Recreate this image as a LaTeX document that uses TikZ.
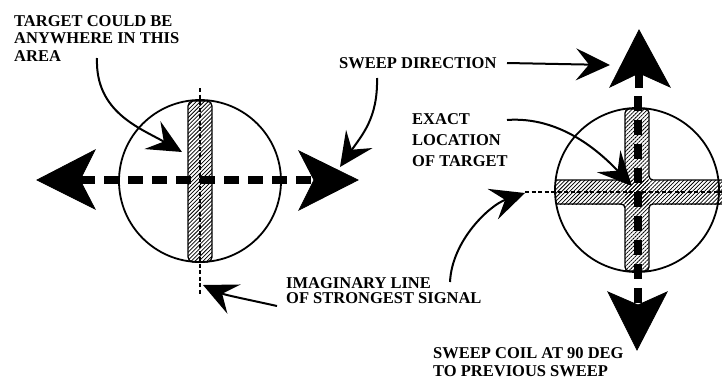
\documentclass[tikz,border=0pt]{standalone}
\usepackage{fontspec}
\setmainfont{Liberation Serif}
\usetikzlibrary{arrows.meta,patterns.meta}
\tikzset{
  lbl/.style={anchor=north west, inner sep=0pt, align=left, font=\bfseries\fontsize{16.5}{#1}\selectfont},
  lbl/.default=17.5,
  ring/.style={line width=1.8pt},
  hatch/.style={pattern={Lines[angle=45,distance=2.8pt,line width=0.75pt]}},
  baroutline/.style={line width=1.3pt, rounded corners=5pt},
  thindash/.style={line width=1.3pt, dash pattern=on 4pt off 2.5pt},
  thickdash/.style={line width=8pt, dash pattern=on 15pt off 9pt},
  pointer/.style={line width=2pt, -{Stealth[length=34pt,width=32pt,inset=13pt]}},
  bighead/.style={fill=black, draw=black, line width=0.8pt, line join=miter},
}
\begin{document}
\begin{tikzpicture}[x=1pt,y=-1pt]
\useasboundingbox (0,0) rectangle (722,381);
% ---------- left figure ----------
\coordinate (Lc) at (200,181);
\draw[ring] (Lc) circle[radius=81];
\fill[hatch] [rounded corners=5pt] (188,101) rectangle (212,262);
\draw[baroutline] (188,101) rectangle (212,262);
\coordinate (Ltop) at (200,88);
\coordinate (Lbot) at (200,294);
\draw[thindash] (Ltop) -- (Lbot);
% sweep heads
\coordinate (LLn) at (80,180);
\coordinate (LRn) at (314,180);
\draw[thickdash] (LLn) -- (LRn);
\filldraw[bighead] (37,180) -- (95,150) -- (LLn) -- (95,209) -- cycle;
\filldraw[bighead] (358,180) -- (299,151) -- (LRn) -- (299,210) -- cycle;
% ---------- right figure ----------
\coordinate (Rc) at (637,190);
\draw[ring] (Rc) circle[radius=82];
\fill[hatch] (625,109) rectangle (649,271);
\fill[hatch] (556,180) rectangle (725,204);
\draw[line width=1.3pt, rounded corners=4pt]
  (556,180) -- (625,180) -- (625,109) -- (649,109) -- (649,180) -- (725,180);
\draw[line width=1.3pt, rounded corners=4pt]
  (556,204) -- (625,204) -- (625,271) -- (649,271) -- (649,204) -- (725,204);
\coordinate (Rleft) at (525,192);
\coordinate (Rright) at (725,192);
\draw[thindash] (Rleft) -- (Rright);
\coordinate (RUn) at (639,73);
\coordinate (RDn) at (638,305);
\draw[line width=8pt] (RUn) -- (639,88);
\draw[thickdash] (638,96) -- (RDn);
\filldraw[bighead] (639,30) -- (670,87) -- (RUn) -- (610,87) -- cycle;
\filldraw[bighead] (637,350) -- (608,292) -- (RDn) -- (667,292) -- cycle;
% ---------- labels ----------
\node[lbl=17.5] (tgt) at (14,15) {TARGET COULD BE\\ANYWHERE IN THIS\\AREA};
\node[lbl] (swp) at (339,57) {SWEEP DIRECTION};
\node[lbl=21] (exact) at (412,113) {EXACT\\LOCATION\\OF TARGET};
\node[lbl=15] (imag) at (286,277) {IMAGINARY LINE\\OF STRONGEST SIGNAL};
\node[lbl=18] (coil) at (433,347) {SWEEP COIL AT 90 DEG\\TO PREVIOUS SWEEP};
% ---------- pointer arrows ----------
\coordinate (a1s) at (97,58);   \coordinate (a1e) at (182,152);
\coordinate (a2s) at (377,78);  \coordinate (a2e) at (340,167);
\coordinate (a3s) at (507,63);  \coordinate (a3e) at (610,65);
\coordinate (a4s) at (507,120); \coordinate (a4e) at (632,186);
\coordinate (a5s) at (277,306); \coordinate (a5e) at (203,285);
\coordinate (a6s) at (450,282); \coordinate (a6e) at (525,193);
\draw[pointer] (a1s) .. controls (95,112) and (140,128) .. (a1e);
\draw[pointer] (a2s) .. controls (378,118) and (362,135) .. (a2e);
\draw[pointer] (a3s) -- (a3e);
\draw[pointer] (a4s) .. controls (560,116) and (600,152) .. (a4e);
\draw[pointer] (a5s) .. controls (250,300) and (225,295) .. (a5e);
\draw[pointer] (a6s) .. controls (452,240) and (490,205) .. (a6e);
\end{tikzpicture}
\end{document}
